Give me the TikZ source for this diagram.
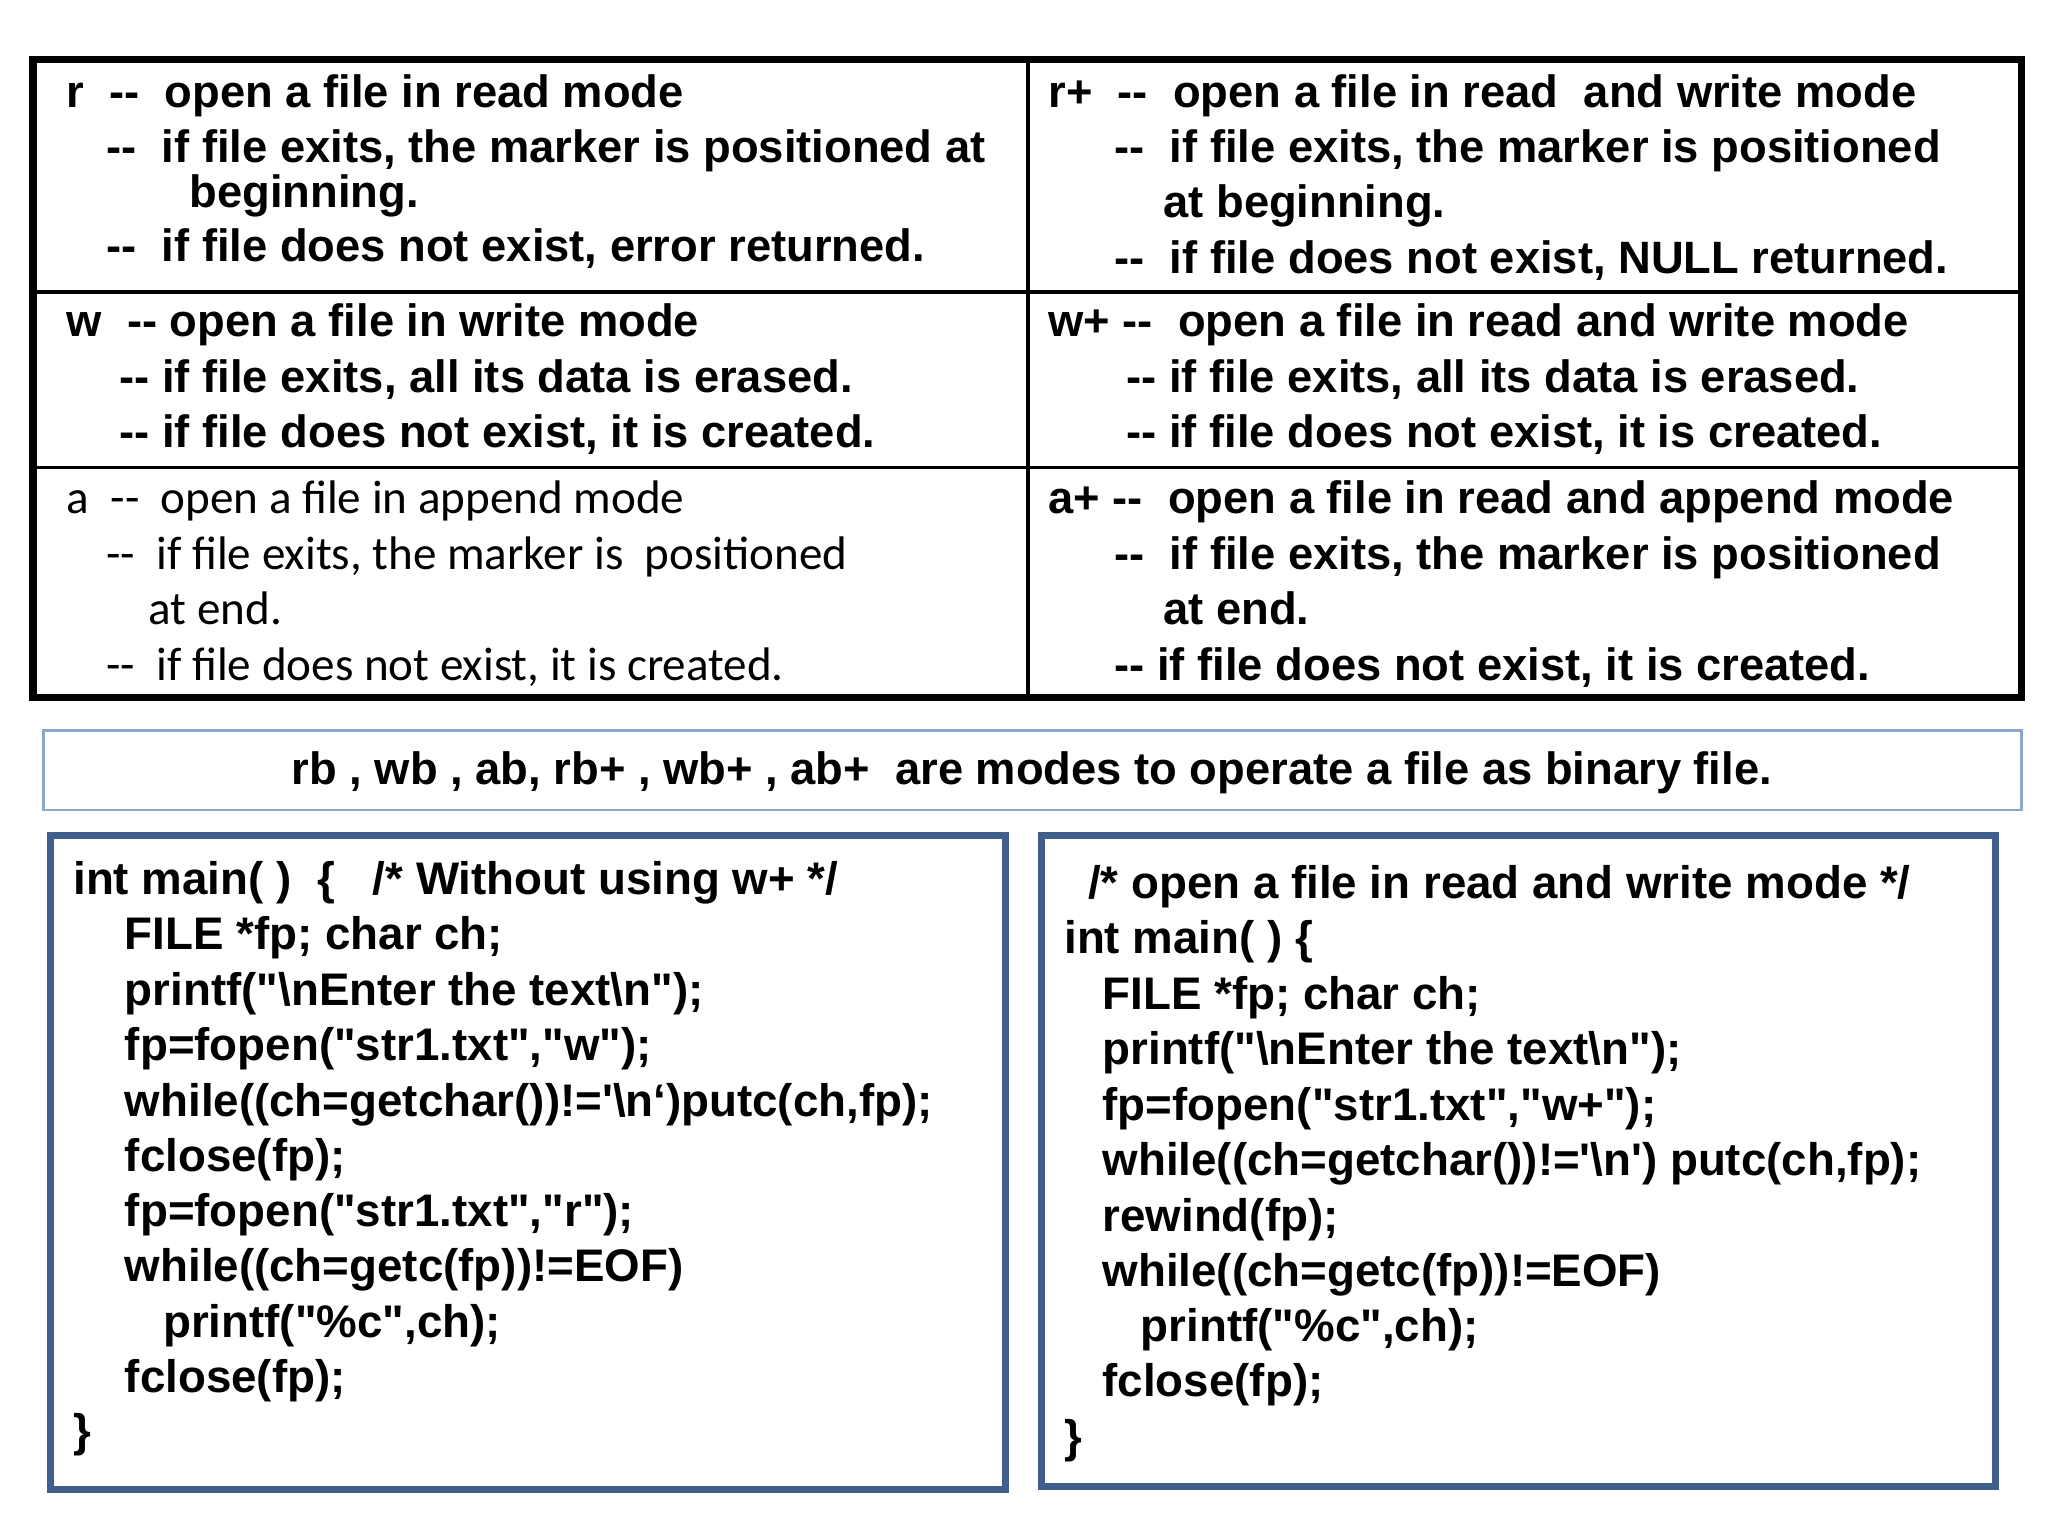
\documentclass[tikz,border=0pt]{standalone}
\usepackage{fontspec}
\setmainfont{Liberation Sans}
\newfontfamily\carlitofont{Carlito}
\newcommand{\qq}{\textquotedbl}
\definecolor{boxblue}{HTML}{3F5E8C}
\definecolor{lightblue}{HTML}{8EA6CC}
\tikzset{
    txt/.style={anchor=base west, inner sep=0pt, font=\fontsize{12.9}{15}\selectfont\bfseries},
    atxt/.style={anchor=base west, inner sep=0pt, font=\fontsize{13.4}{16}\selectfont\carlitofont},
    code/.style={anchor=base west, inner sep=0pt, font=\fontsize{13.0}{16}\selectfont\bfseries}
}
\begin{document}
\begin{tikzpicture}[x=0.01321cm, y=-0.01321cm]
    \useasboundingbox (0,0) rectangle (1550,1162.7);

    % table of modes
    \draw[line width=2.2pt] (25,45) rectangle (1530,528);
    \draw[line width=0.9pt] (778,45) -- (778,528);
    \draw[line width=0.9pt] (25,221) -- (1530,221);
    \draw[line width=0.9pt] (25,354) -- (1530,354);

    % r
    \node[txt] (r1) at (50,81)  {r \ -{}- \ open a file in read mode};
    \node[txt] (r2) at (80,123) {-{}- \ if file exits, the marker is positioned at};
    \node[txt] (r3) at (143,157) {beginning.};
    \node[txt] (r4) at (80,198) {-{}- \ if file does not exist, error returned.};
    % r+
    \node[txt] (rp1) at (793,81)  {r+ \ -{}- \ open a file in read \ and write mode};
    \node[txt] (rp2) at (843,123) {-{}- \ if file exits, the marker is positioned};
    \node[txt] (rp3) at (880,165) {at beginning.};
    \node[txt] (rp4) at (843,207) {-{}- \ if file does not exist, NULL returned.};
    % w
    \node[txt] (w1) at (50,255) {w \ -{}- open a file in write mode};
    \node[txt] (w2) at (90,297) {-{}- if file exits, all its data is erased.};
    \node[txt] (w3) at (90,339) {-{}- if file does not exist, it is created.};
    % w+
    \node[txt] (wp1) at (793,255) {w+ -{}- \ open a file in read and write mode};
    \node[txt] (wp2) at (852,297) {-{}- if file exits, all its data is erased.};
    \node[txt] (wp3) at (852,339) {-{}- if file does not exist, it is created.};
    % a
    \node[atxt] (a1) at (50,389)  {a \ -{}- \ open a file in append mode};
    \node[atxt] (a2) at (80,431)  {-{}- \ if file exits, the marker is \ positioned};
    \node[atxt] (a3) at (112,473) {at end.};
    \node[atxt] (a4) at (80,515)  {-{}- \ if file does not exist, it is created.};
    % a+
    \node[txt] (ap1) at (793,389) {a+ -{}- \ open a file in read and append mode};
    \node[txt] (ap2) at (843,431) {-{}- \ if file exits, the marker is positioned};
    \node[txt] (ap3) at (880,473) {at end.};
    \node[txt] (ap4) at (843,515) {-{}- if file does not exist, it is created.};

    % binary modes
    \draw[lightblue, line width=0.8pt] (33,553) rectangle (1530,613);
    \node[txt, anchor=base] (bin) at (781,594) {rb , wb , ab, rb+ , wb+ , ab+ \ are modes to operate a file as binary file.};

    % code boxes
    \draw[boxblue, line width=2pt] (38,632) rectangle (761,1127);
    \draw[boxblue, line width=2pt] (788,632) rectangle (1510,1125);

    \node[code] (L1)  at (55,677)  {int main( ) \ \{ \ \ /* Without using w+ */};
    \node[code] (L2)  at (94,719)  {FILE *fp; char ch;};
    \node[code] (L3)  at (94,761)  {printf(\qq\textbackslash nEnter the text\textbackslash n\qq);};
    \node[code] (L4)  at (94,803)  {fp=fopen(\qq str1.txt\qq,\qq w\qq);};
    \node[code] (L5)  at (94,845)  {while((ch=getchar())!=\textquotesingle\textbackslash n‘)putc(ch,fp);};
    \node[code] (L6)  at (94,887)  {fclose(fp);};
    \node[code] (L7)  at (94,928)  {fp=fopen(\qq str1.txt\qq,\qq r\qq);};
    \node[code] (L8)  at (94,970)  {while((ch=getc(fp))!=EOF)};
    \node[code] (L9)  at (123,1012) {printf(\qq\%c\qq,ch);};
    \node[code] (L10) at (94,1054) {fclose(fp);};
    \node[code] (L11) at (55,1095) {\}};

    \node[code] (R1)  at (823,680)  {/* open a file in read and write mode */};
    \node[code] (R2)  at (805,722)  {int main( ) \{};
    \node[code] (R3)  at (834,764)  {FILE *fp; char ch;};
    \node[code] (R4)  at (834,806)  {printf(\qq\textbackslash nEnter the text\textbackslash n\qq);};
    \node[code] (R5)  at (834,848)  {fp=fopen(\qq str1.txt\qq,\qq w+\qq);};
    \node[code] (R6)  at (834,890)  {while((ch=getchar())!=\textquotesingle\textbackslash n\textquotesingle) putc(ch,fp);};
    \node[code] (R7)  at (834,932)  {rewind(fp);};
    \node[code] (R8)  at (834,974)  {while((ch=getc(fp))!=EOF)};
    \node[code] (R9)  at (863,1015) {printf(\qq\%c\qq,ch);};
    \node[code] (R10) at (834,1057) {fclose(fp);};
    \node[code] (R11) at (805,1099) {\}};
\end{tikzpicture}
\end{document}
